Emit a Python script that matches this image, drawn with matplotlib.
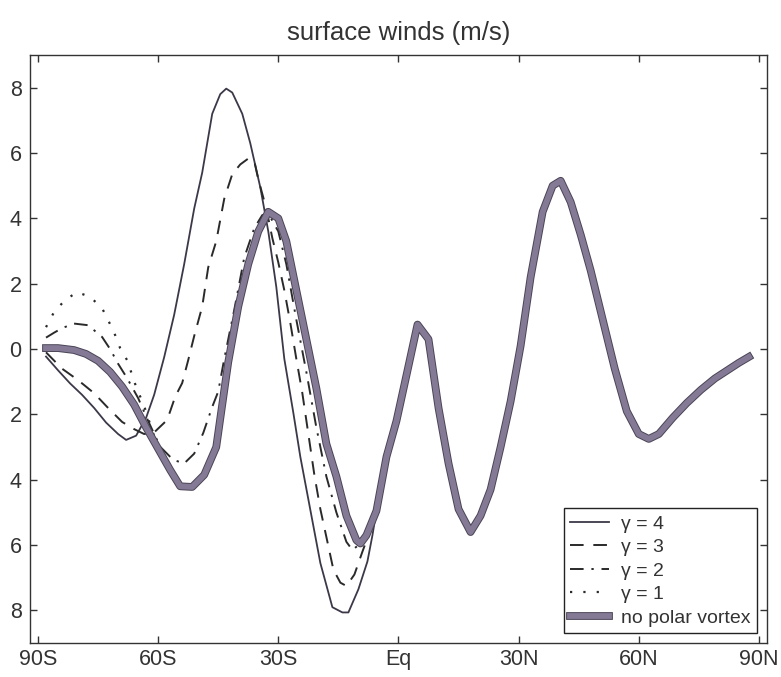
import numpy as np
import matplotlib
matplotlib.use('Agg')
import matplotlib.pyplot as plt
import matplotlib.patheffects as pe

plt.rcParams['font.family'] = ['Liberation Sans', 'DejaVu Sans']

# no polar vortex (thick line)
lat_main = np.array([-88, -85, -81, -78, -75, -72, -69, -66, -63, -60, -57, -54.5, -51.5, -48.5,
                     -45.5, -42.5, -40, -37.5, -35, -32.5, -30, -28, -25.5, -23, -20.5, -18, -15.5,
                     -13, -10.5, -9.5, -8, -5.5, -3, -0.5, 2, 4.75, 7.5, 10, 12.5, 15, 18, 20.5,
                     23, 25.5, 28, 30.5, 33, 36, 38.5, 40.5, 43, 45.5, 48, 51, 54, 57, 60, 62.5,
                     65, 68.5, 72, 75.5, 79, 82.5, 85, 87.5])
u_main = np.array([0.03, 0.03, -0.03, -0.15, -0.36, -0.7, -1.15, -1.7, -2.4, -3.05, -3.7, -4.2,
                   -4.22, -3.85, -3.0, -0.4, 1.3, 2.6, 3.6, 4.2, 4.0, 3.3, 1.8, 0.3, -1.2, -2.9,
                   -3.9, -5.1, -5.85, -5.95, -5.7, -4.95, -3.3, -2.2, -0.8, 0.75, 0.3, -1.8, -3.5,
                   -4.9, -5.6, -5.1, -4.3, -3.0, -1.6, 0.1, 2.2, 4.2, 5.0, 5.15, 4.5, 3.5, 2.4,
                   0.9, -0.6, -1.9, -2.6, -2.75, -2.6, -2.1, -1.65, -1.25, -0.9, -0.62, -0.42,
                   -0.24])

# southern parts of the gamma runs (north of these they follow the thick line)
lat_g4 = np.array([-88, -85, -82, -79, -76, -73, -70, -68, -65.5, -63, -61, -58.5, -56, -53.5,
                   -51, -49, -46.5, -44.5, -43, -41.5, -39, -37, -34.5, -32.5, -30.5, -28.5,
                   -26.25, -24.5, -22.5, -19.5, -16.5, -14, -12.5, -10, -7.75, -6.5])
u_g4 = np.array([-0.23, -0.65, -1.05, -1.4, -1.8, -2.25, -2.6, -2.78, -2.65, -2.1, -1.4, -0.25,
                 1.05, 2.6, 4.3, 5.4, 7.2, 7.8, 7.97, 7.85, 7.2, 6.3, 4.95, 3.6, 1.9, -0.3,
                 -1.95, -3.3, -4.6, -6.55, -7.9, -8.06, -8.06, -7.35, -6.5, -5.7])

lat_g3 = np.array([-88, -84, -80, -76, -72.75, -69, -66, -63.5, -61, -57.75, -55.75, -54, -52.5,
                   -51, -49, -47.5, -45.5, -43.5, -41.5, -39.5, -37.5, -36, -35, -33, -31.5, -30,
                   -28.5, -27, -25.5, -24, -22.5, -21, -19.5, -18, -16.25, -14.5, -13, -11, -9,
                   -7.5])
u_g3 = np.array([-0.1, -0.6, -0.95, -1.35, -1.77, -2.23, -2.45, -2.6, -2.55, -2.17, -1.46, -1.04,
                 -0.34, 0.4, 1.3, 2.5, 3.3, 4.6, 5.35, 5.65, 5.83, 5.75, 5.2, 4.3, 3.4, 2.65, 1.8,
                 0.8, -0.3, -1.35, -2.6, -3.85, -4.9, -5.75, -6.75, -7.15, -7.25, -6.9, -6.2,
                 -5.7])

lat_g2 = np.array([-88, -86, -84, -81, -77.5, -74, -72, -70, -67.75, -65, -62.5, -59.5, -56.25,
                   -53.5, -51, -48.75, -46.5, -45, -43.5, -41, -38.5, -36, -34, -32.5, -30, -28,
                   -25.5, -23, -20.5, -18, -15.5, -13, -11.5, -10, -8])
u_g2 = np.array([0.35, 0.5, 0.64, 0.78, 0.73, 0.37, 0.0, -0.45, -0.89, -1.5, -2.2, -2.99, -3.39,
                 -3.5, -3.2, -2.57, -1.77, -1.3, -0.3, 1.2, 2.8, 3.7, 4.1, 4.15, 3.6, 2.6, 0.9,
                 -0.7, -2.4, -3.9, -5.0, -5.9, -6.15, -6.0, -5.6])

lat_g1 = np.array([-88, -86, -83.25, -80.25, -77, -74, -72.5, -70.75, -69.5, -67.75, -66.5,
                   -65.25, -63.75, -62, -60.5])
u_g1 = np.array([0.67, 1.13, 1.5, 1.74, 1.6, 1.25, 0.89, 0.43, 0.03, -0.34, -0.79, -1.25, -1.65,
                 -2.3, -2.85])

x_ticks = [-90, -60, -30, 0, 30, 60, 90]
x_labels = ['90S', '60S', '30S', 'Eq', '30N', '60N', '90N']
y_ticks = [-8, -6, -4, -2, 0, 2, 4, 6, 8]
y_labels = ['8', '6', '4', '2', '0', '2', '4', '6', '8']  # minus signs are lost in the original


def join(lat_sh, u_sh):
    keep = lat_main > lat_sh[-1]
    return np.concatenate([lat_sh, lat_main[keep]]), np.concatenate([u_sh, u_main[keep]])


fig = plt.figure(figsize=(7.81, 6.77), dpi=100)
ax = fig.add_axes([0.0384, 0.050, 0.9436, 0.8688])

ink = '#2a2a2a'
x, y = join(lat_g4, u_g4)
ax.plot(x, y, color='#3d3848', lw=1.3, label='\u03b3 = 4')
x, y = join(lat_g3, u_g3)
ax.plot(x, y, color=ink, lw=1.4, dashes=(7, 5), label='\u03b3 = 3')
x, y = join(lat_g2, u_g2)
ax.plot(x, y, color=ink, lw=1.4, dashes=(7, 4, 1.2, 4), label='\u03b3 = 2')
x, y = join(lat_g1, u_g1)
ax.plot(x, y, color=ink, lw=1.6, dashes=(1, 5), label='\u03b3 = 1')
ax.plot(lat_main, u_main, color='#847a96', lw=4.2, solid_joinstyle='round',
        path_effects=[pe.Stroke(linewidth=5.6, foreground='#4a4455'), pe.Normal()],
        label='no polar vortex')

ax.set_xlim(-92, 92)
ax.set_ylim(-9, 9)
ax.set_xticks(x_ticks)
ax.set_xticklabels(x_labels)
ax.set_yticks(y_ticks)
ax.set_yticklabels(y_labels)
ax.tick_params(direction='in', top=True, right=True, length=5, width=1, colors='#333333',
               labelsize=15.5, pad=4)
ax.tick_params(axis='y', pad=6)
for s in ax.spines.values():
    s.set_color('#333333')
    s.set_linewidth(1.0)

ax.set_title('surface winds (m/s)', fontsize=18.5, color='#333333', pad=11)

leg = ax.legend(loc='lower right', fontsize=14, frameon=True, fancybox=False, framealpha=1,
                edgecolor='#222222', handlelength=2.0, labelspacing=0.3, borderaxespad=0.5,
                borderpad=0.35, handletextpad=0.6)
leg.get_frame().set_linewidth(1.0)
for t in leg.get_texts():
    t.set_color('#333333')

fig.savefig('out.png', dpi=100, facecolor='white')
